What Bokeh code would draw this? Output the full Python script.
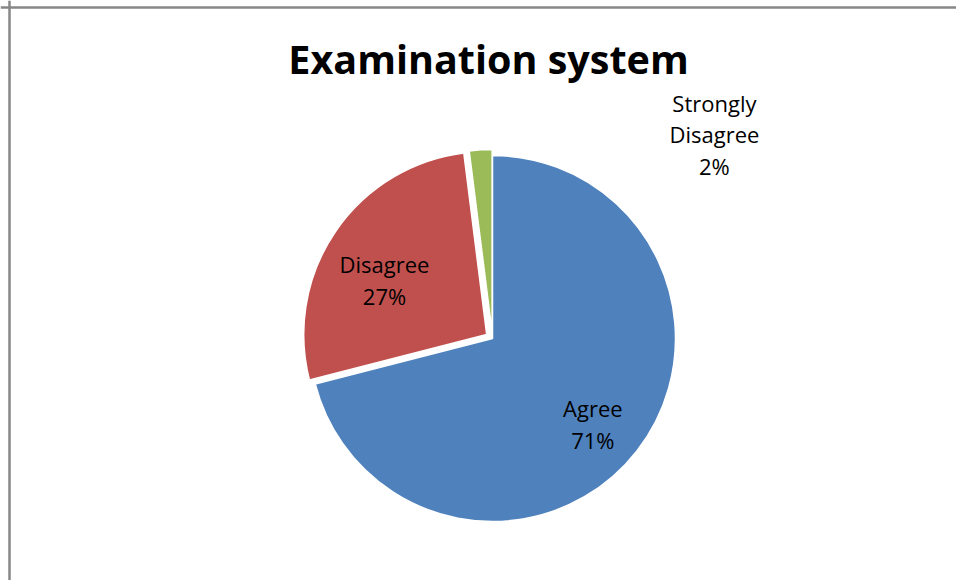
import math
from bokeh.plotting import figure
from bokeh.models import Range1d, Span, ColumnDataSource, Label
from bokeh.core.properties import value
from bokeh.embed import file_html
from bokeh.resources import INLINE

# ---- data ----
title_text = "Examination system"
categories = ["Agree", "Disagree", "Strongly Disagree"]
label_names = ["Agree", "Disagree", "Strongly\nDisagree"]
percents = [71, 27, 2]
colors = ["#4F81BD", "#C0504D", "#9BBB59"]

# ---- layout / style ----
W, H = 956, 580
cx, cy = 492, 242        # pie centre (plot units = px)
R = 183
explode = [0, 7, 6]      # px each slice is pulled out
label_dist = [0.721, 0.633, 1.627]        # label distance (fraction of R)
label_angle_shift = [-2.7, 6.1, -51.9]    # degrees relative to slice bisector

total = float(sum(percents))
xs, ys, starts, ends, lx, ly, texts = [], [], [], [], [], [], []
cum = 0.0
for i, v in enumerate(percents):
    a0 = math.pi / 2 - 2 * math.pi * (cum + v) / total
    a1 = math.pi / 2 - 2 * math.pi * cum / total
    mid = (a0 + a1) / 2
    x0 = cx + explode[i] * math.cos(mid)
    y0 = cy + explode[i] * math.sin(mid)
    xs.append(x0); ys.append(y0); starts.append(a0); ends.append(a1)
    la = mid + math.radians(label_angle_shift[i])
    lx.append(x0 + label_dist[i] * R * math.cos(la))
    ly.append(y0 + label_dist[i] * R * math.sin(la))
    texts.append(f"{label_names[i]}\n{round(100 * v / total)}%")
    cum += v

src = ColumnDataSource(dict(x=xs, y=ys, start=starts, end=ends, color=colors,
                            lx=lx, ly=ly, text=texts, cat=categories))

p = figure(width=W, height=H, output_backend="svg", toolbar_location=None,
           x_range=Range1d(0, W), y_range=Range1d(0, H), min_border=0)
p.axis.visible = False
p.grid.visible = False
p.outline_line_color = None
p.background_fill_color = "white"
p.border_fill_color = "white"

p.wedge(x="x", y="y", radius=R, start_angle="start", end_angle="end",
        fill_color="color", line_color="white", line_width=1.5, source=src)

p.text(x="lx", y="ly", text="text", source=src, text_font=value("Open Sans"),
       text_font_size="22px", text_align="center", text_baseline="middle",
       text_line_height=1.05, text_color="black")

p.add_layout(Label(x=488, y=H - 58, x_units="data", y_units="data",
                   text=title_text, text_font="Open Sans", text_font_style="bold",
                   text_font_size="39.5px", text_align="center",
                   text_baseline="alphabetic", text_color="black"))

# chart frame (top and left edges visible in reference)
p.add_layout(Span(location=H - 7, dimension="width", line_color="#878787", line_width=2.5))
p.add_layout(Span(location=9, dimension="height", line_color="#878787", line_width=2.5))

open("out.html", "w").write(file_html(p, INLINE))
